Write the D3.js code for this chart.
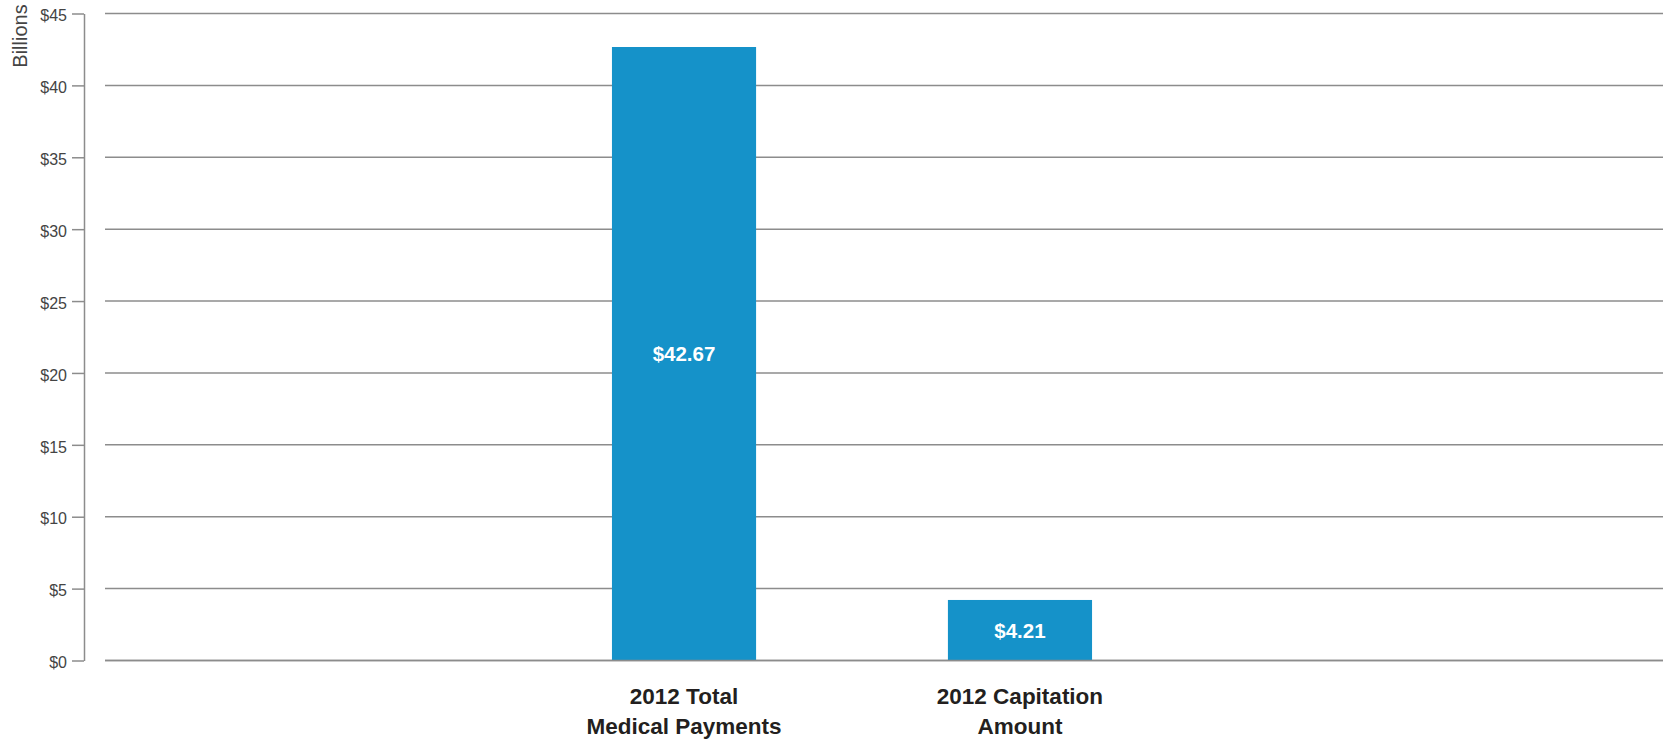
<!DOCTYPE html>
<html>
<head>
<meta charset="utf-8">
<script src="https://cdn.jsdelivr.net/npm/d3@7"></script>
<style>
  html, body { margin: 0; padding: 0; background: #fff; }
  svg { display: block; }
  text { font-family: "Liberation Sans", Arial, sans-serif; }
</style>
</head>
<body>
<svg id="chart" width="1663" height="740"></svg>
<script>
// Medical payments vs. capitation, 2012 (billions of dollars)
const categories = ["2012 Total Medical Payments", "2012 Capitation Amount"];
const categoryLines = [["2012 Total", "Medical Payments"], ["2012 Capitation", "Amount"]];
const values = [42.67, 4.21];
const valueLabels = ["$42.67", "$4.21"];
const yTicks = [0, 5, 10, 15, 20, 25, 30, 35, 40, 45];
const yTickLabels = ["$0", "$5", "$10", "$15", "$20", "$25", "$30", "$35", "$40", "$45"];
const yAxisTitle = "Billions";

const svg = d3.select("#chart");
const W = 1663;

const y = d3.scaleLinear().domain([0, 45]).range([660.5, 13.5]);
const x = d3.scaleBand()
  .domain(categories)
  .range([108, 1596])
  .paddingInner(0.571)
  .paddingOuter(1.5);

const gridColor = "#8c8c8c";

// horizontal gridlines across the plot
svg.append("g")
  .selectAll("line")
  .data(yTicks)
  .join("line")
  .attr("x1", 105)
  .attr("x2", W)
  .attr("y1", d => y(d))
  .attr("y2", d => y(d))
  .attr("stroke", gridColor)
  .attr("stroke-width", 1.5);

// left axis with short ticks and dollar labels
const axis = d3.axisLeft(y)
  .tickValues(yTicks)
  .tickFormat((d, i) => yTickLabels[i])
  .tickSizeInner(12)
  .tickSizeOuter(0)
  .tickPadding(5);

const gAxis = svg.append("g")
  .attr("transform", "translate(84,0)")
  .call(axis);
gAxis.select(".domain").attr("stroke", gridColor).attr("stroke-width", 1.5);
gAxis.selectAll(".tick line").attr("stroke", gridColor).attr("stroke-width", 1.5);
gAxis.selectAll(".tick text")
  .attr("font-family", "Liberation Sans, Arial, sans-serif")
  .attr("font-size", 16)
  .attr("fill", "#444")
  .attr("dy", "0.45em");

// axis title
svg.append("text")
  .attr("transform", "translate(27,36) rotate(-90)")
  .attr("text-anchor", "middle")
  .attr("font-family", "'Liberation Sans Narrow', 'Arial Narrow', 'Liberation Sans', sans-serif")
  .attr("font-size", 20)
  .attr("fill", "#444")
  .text(yAxisTitle);

// bars
svg.append("g")
  .selectAll("rect")
  .data(values)
  .join("rect")
  .attr("x", (d, i) => x(categories[i]))
  .attr("width", x.bandwidth())
  .attr("y", d => y(d))
  .attr("height", d => y(0) - y(d))
  .attr("fill", "#1592c9");

// baseline over the bars
svg.append("line")
  .attr("x1", 105).attr("x2", W)
  .attr("y1", y(0)).attr("y2", y(0))
  .attr("stroke", gridColor)
  .attr("stroke-width", 1.5);

// value labels centred inside bars
svg.append("g")
  .selectAll("text")
  .data(values)
  .join("text")
  .attr("x", (d, i) => x(categories[i]) + x.bandwidth() / 2)
  .attr("y", d => (y(d) + y(0)) / 2)
  .attr("dy", "0.36em")
  .attr("text-anchor", "middle")
  .attr("font-weight", "bold")
  .attr("font-size", 20.5)
  .attr("fill", "#fff")
  .text((d, i) => valueLabels[i]);

// category labels under the axis
const cat = svg.append("g")
  .selectAll("text")
  .data(categories)
  .join("text")
  .attr("text-anchor", "middle")
  .attr("font-weight", "bold")
  .attr("font-size", 22.5)
  .attr("fill", "#231f20");
cat.each(function(d, i) {
  const cx = x(d) + x.bandwidth() / 2;
  d3.select(this).selectAll("tspan")
    .data(categoryLines[i])
    .join("tspan")
    .attr("x", cx)
    .attr("y", (t, j) => 703.5 + j * 30)
    .text(t => t);
});
</script>
</body>
</html>
